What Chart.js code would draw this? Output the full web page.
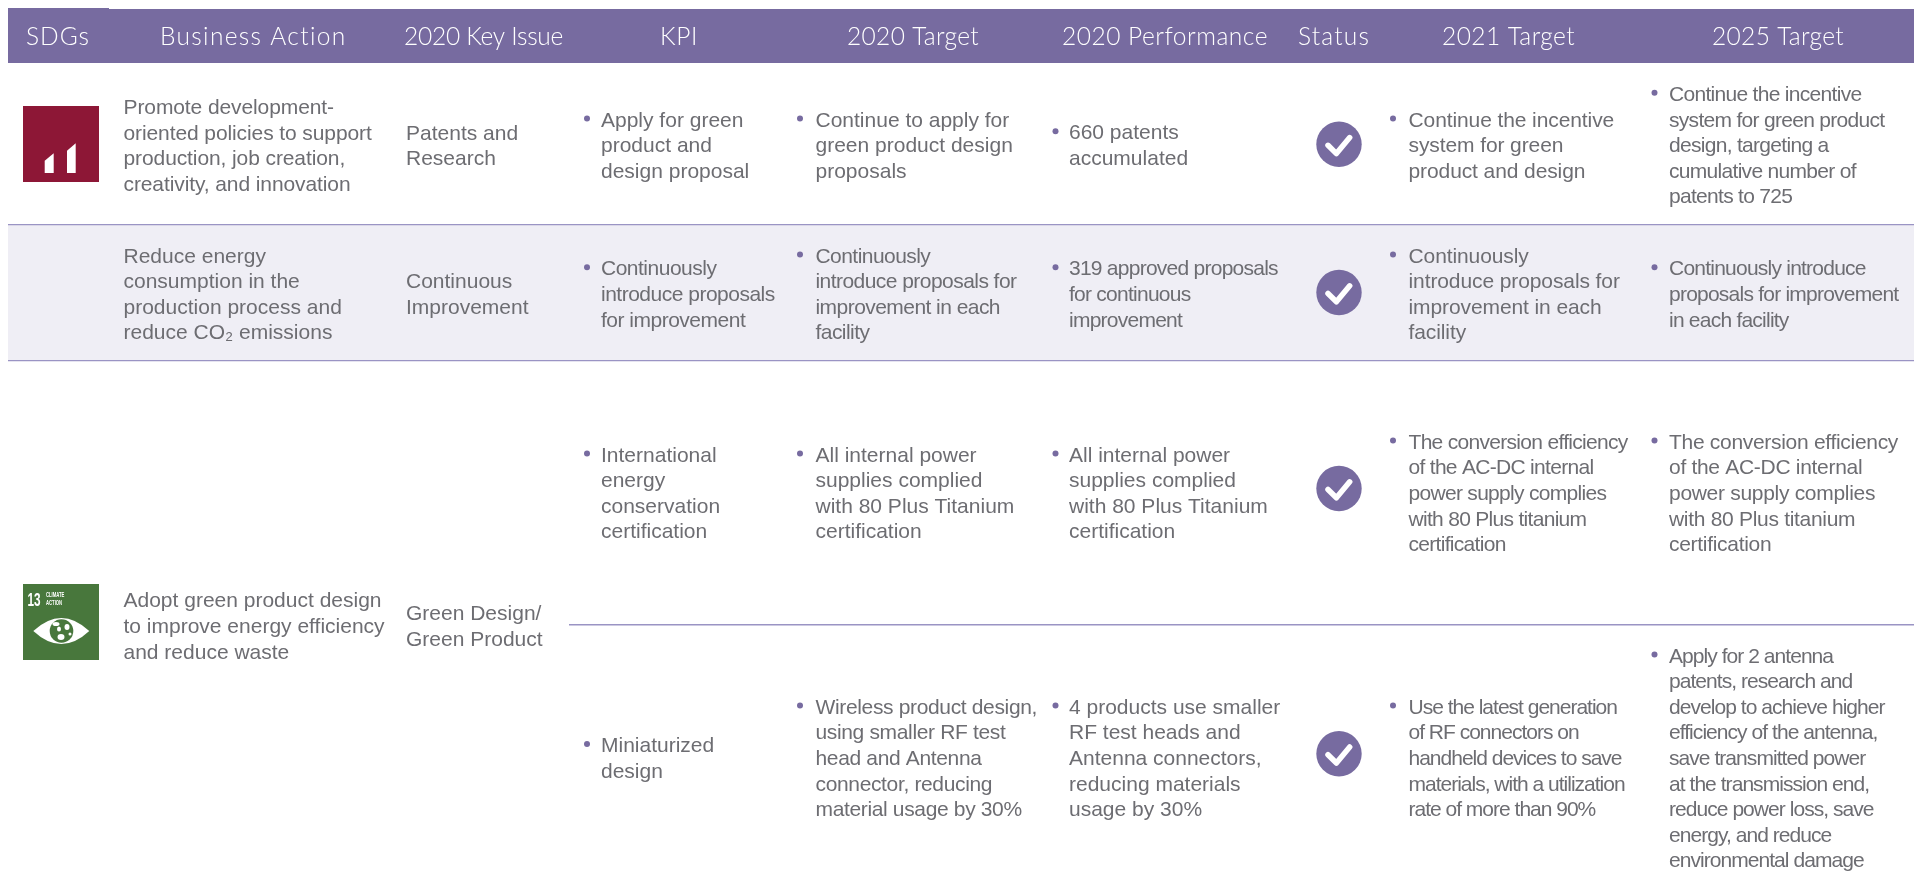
<!DOCTYPE html>
<html>
<head>
<meta charset="utf-8">
<title>SDGs table</title>
<script src="https://cdn.jsdelivr.net/npm/chart.js@4/dist/chart.umd.min.js"></script>
<style>
  html, body { margin: 0; padding: 0; background: #fff; overflow: hidden; }
  canvas { display: block; }
</style>
</head>
<body>
<canvas id="chart" width="1914" height="883"></canvas>
<script>
// table content
const headers = ['SDGs', 'Business Action', '2020 Key Issue', 'KPI', '2020 Target', '2020 Performance', 'Status', '2021 Target', '2025 Target'];
const businessActions = [
  ['Promote development-', 'oriented policies to support', 'production, job creation,', 'creativity, and innovation'],
  ['Reduce energy', 'consumption in the', 'production process and', 'reduce CO\u2082 emissions'],
  ['Adopt green product design', 'to improve energy efficiency', 'and reduce waste']
];
const keyIssues = [
  ['Patents and', 'Research'],
  ['Continuous', 'Improvement'],
  ['Green Design/', 'Green Product']
];
const kpis = [
  ['Apply for green', 'product and', 'design proposal'],
  ['Continuously', 'introduce proposals', 'for improvement'],
  ['International', 'energy', 'conservation', 'certification'],
  ['Miniaturized', 'design']
];
const targets2020 = [
  ['Continue to apply for', 'green product design', 'proposals'],
  ['Continuously', 'introduce proposals for', 'improvement in each', 'facility'],
  ['All internal power', 'supplies complied', 'with 80 Plus Titanium', 'certification'],
  ['Wireless product design,', 'using smaller RF test', 'head and Antenna', 'connector, reducing', 'material usage by 30%']
];
const performance2020 = [
  ['660 patents', 'accumulated'],
  ['319 approved proposals', 'for continuous', 'improvement'],
  ['All internal power', 'supplies complied', 'with 80 Plus Titanium', 'certification'],
  ['4 products use smaller', 'RF test heads and', 'Antenna connectors,', 'reducing materials', 'usage by 30%']
];
const statusDone = [1, 1, 1, 1];
const targets2021 = [
  ['Continue the incentive', 'system for green', 'product and design'],
  ['Continuously', 'introduce proposals for', 'improvement in each', 'facility'],
  ['The conversion efficiency', 'of the AC-DC internal', 'power supply complies', 'with 80 Plus titanium', 'certification'],
  ['Use the latest generation', 'of RF connectors on', 'handheld devices to save', 'materials, with a utilization', 'rate of more than 90%']
];
const targets2025 = [
  ['Continue the incentive', 'system for green product', 'design, targeting a', 'cumulative number of', 'patents to 725'],
  ['Continuously introduce', 'proposals for improvement', 'in each facility'],
  ['The conversion efficiency', 'of the AC-DC internal', 'power supply complies', 'with 80 Plus titanium', 'certification'],
  ['Apply for 2 antenna', 'patents, research and', 'develop to achieve higher', 'efficiency of the antenna,', 'save transmitted power', 'at the transmission end,', 'reduce power loss, save', 'energy, and reduce', 'environmental damage']
];

// layout, in the px units of the hidden axes
const W = 1914, H = 883;
const headerLeft = [26, 160, 404, 660, 847, 1062, 1298, 1442, 1712];
const headerWidth = [64, 187, 159, 38, 132, 206, 72, 133, 132];
const rowMid = [152.2, 301, 500, 765];   // middle baseline of each row
const groupMid = [152.5, 301, 633];      // action + key issue columns
const statusY = [144.3, 292.5, 488.5, 753.7];
const lineH = 25.6;
const actionX = 123.5, issueX = 406;
const bulletCols = [
  { cells: kpis, bullet: 587, text: 601, track: [0, -0.5, 0, 0] },
  { cells: targets2020, bullet: 800, text: 815.5, track: [0, -0.55, 0, -0.35] },
  { cells: performance2020, bullet: 1055.5, text: 1069, track: [0, -0.75, 0, 0] },
  { cells: targets2021, bullet: 1393, text: 1408.5, track: [-0.1, -0.1, -0.7, -1] },
  { cells: targets2025, bullet: 1654.5, text: 1669, track: [-0.7, -0.77, -0.3, -0.95] }
];
const actionTrack = [-0.1, 0, 0];
const statusX = 1339;

const PURPLE = '#776ba0', RULE = '#9a94c4', BAND = '#efeef5', TEXT = '#6d6d72';

function box(x0, x1, y0, y1, color) {
  return {
    type: 'scatter', showLine: true, fill: 'shape', backgroundColor: color, borderWidth: 0,
    pointRadius: 0, order: 5, tension: 0,
    data: [{ x: x0, y: y0 }, { x: x1, y: y0 }, { x: x1, y: y1 }, { x: x0, y: y1 }, { x: x0, y: y0 }]
  };
}
function poly(points, color) {
  return {
    type: 'scatter', showLine: true, fill: 'shape', backgroundColor: color, borderWidth: 0,
    pointRadius: 0, order: 3, data: points.map(p => ({ x: p[0], y: p[1] }))
  };
}
function rule(x0, x1, y) {
  return {
    type: 'scatter', showLine: true, borderColor: RULE, borderWidth: 1.4, pointRadius: 0, order: 4,
    data: [{ x: x0, y: y }, { x: x1, y: y }]
  };
}

const bulletPoints = [];
bulletCols.forEach(col => col.cells.forEach((cell, r) => {
  bulletPoints.push({ x: col.bullet, y: rowMid[r] - (cell.length - 1) * lineH / 2 - 8.2 });
}));

const datasets = [
  box(8, 109, 8, 63, PURPLE),
  box(8, W, 9, 63, PURPLE),
  box(8, W, 225, 360, BAND),
  rule(8, W, 224.6),
  rule(8, W, 360.6),
  rule(569, W, 624.7),
  poly([[23, 106], [99, 106], [99, 182], [23, 182]], '#8d1736'),
  poly([[23, 584], [99, 584], [99, 660], [23, 660]], '#48773c'),
  { type: 'scatter', data: bulletPoints, pointRadius: 3, pointBackgroundColor: PURPLE, pointBorderWidth: 0, order: 1 },
  {
    type: 'scatter', order: 1, pointRadius: 22.7, pointBackgroundColor: PURPLE, pointBorderWidth: 0,
    data: statusDone.map((s, r) => ({ x: statusX, y: statusY[r] }))
  }
];

// text and the small icon details
const tablePlugin = {
  id: 'table',
  afterDatasetsDraw(chart) {
    const ctx = chart.ctx;
    const px = v => chart.scales.x.getPixelForValue(v);
    const py = v => chart.scales.y.getPixelForValue(v);
    ctx.save();
    ctx.textBaseline = 'alphabetic';
    ctx.textAlign = 'left';

    // header, spaced out to its measured width
    ctx.fillStyle = '#fff';
    ctx.font = '300 24.5px Lato';
    headers.forEach((h, i) => {
      ctx.letterSpacing = '0px';
      const w = ctx.measureText(h).width;
      ctx.letterSpacing = ((headerWidth[i] - w) / h.length).toFixed(2) + 'px';
      ctx.fillText(h, px(headerLeft[i]), py(45));
    });

    ctx.fillStyle = TEXT;
    ctx.font = '21px "Liberation Sans"';
    ctx.letterSpacing = '0px';
    const block = (lines, x, mid, track) => {
      ctx.letterSpacing = (track || 0) + 'px';
      const top = mid - (lines.length - 1) * lineH / 2;
      lines.forEach((l, k) => ctx.fillText(l, px(x), py(top + k * lineH)));
    };
    businessActions.forEach((c, r) => block(c, actionX, groupMid[r], actionTrack[r]));
    keyIssues.forEach((c, r) => block(c, issueX, groupMid[r], 0));
    bulletCols.forEach(col => col.cells.forEach((c, r) => block(c, col.text, rowMid[r], col.track[r])));
    ctx.letterSpacing = '0px';

    // status ticks
    ctx.strokeStyle = '#fff';
    ctx.lineWidth = 5.5;
    ctx.lineCap = 'round';
    ctx.lineJoin = 'round';
    statusDone.forEach((s, r) => {
      const cy = statusY[r];
      ctx.beginPath();
      ctx.moveTo(px(statusX - 11), py(cy + 1));
      ctx.lineTo(px(statusX - 2.6), py(cy + 9.3));
      ctx.lineTo(px(statusX + 10.7), py(cy - 6.7));
      ctx.stroke();
    });

    // red icon bars
    ctx.fillStyle = '#fff';
    [[44.7, 53.7, 160.7, 153.3], [67, 75.7, 150.7, 143.3]].forEach(b => {
      ctx.beginPath();
      ctx.moveTo(px(b[0]), py(173));
      ctx.lineTo(px(b[0]), py(b[2]));
      ctx.lineTo(px(b[1]), py(b[3]));
      ctx.lineTo(px(b[1]), py(173));
      ctx.closePath();
      ctx.fill();
    });

    // climate action icon
    ctx.save();
    ctx.translate(px(27.5), py(605.5));
    ctx.scale(0.62, 1);
    ctx.font = 'bold 19px "Liberation Sans"';
    ctx.fillText('13', 0, 0);
    ctx.restore();
    ctx.save();
    ctx.translate(px(46), py(597));
    ctx.scale(0.62, 1);
    ctx.font = 'bold 6.8px "Liberation Sans"';
    ctx.fillText('CLIMATE', 0, 0);
    ctx.fillText('ACTION', 0, 8.3);
    ctx.restore();
    const ex0 = 33.3, ex1 = 89.3, ey = 631, eh = 13;
    ctx.beginPath();
    ctx.moveTo(px(ex0), py(ey));
    ctx.quadraticCurveTo(px(61.3), py(ey - eh * 2), px(ex1), py(ey));
    ctx.quadraticCurveTo(px(61.3), py(ey + eh * 2), px(ex0), py(ey));
    ctx.fill();
    ctx.fillStyle = '#48773c';
    ctx.beginPath();
    ctx.arc(px(61.5), py(631), 11.8, 0, Math.PI * 2);
    ctx.fill();
    ctx.fillStyle = '#fff';
    [[56, 624, 3.5, 2], [59, 629, 2, 2.5], [61, 637, 3.5, 3], [67, 627, 2.5, 3], [70, 634, 1.5, 1.5]].forEach(e => {
      ctx.beginPath();
      ctx.ellipse(px(e[0]), py(e[1]), e[2], e[3], 0, 0, Math.PI * 2);
      ctx.fill();
    });
    ctx.restore();
  }
};

new Chart(document.getElementById('chart'), {
  data: { datasets },
  options: {
    responsive: false,
    animation: false,
    layout: { padding: 0, autoPadding: false },
    plugins: { legend: { display: false }, tooltip: { enabled: false } },
    scales: {
      x: { type: 'linear', min: 0, max: W, display: false },
      y: { type: 'linear', min: 0, max: H, reverse: true, display: false }
    }
  },
  plugins: [tablePlugin]
});
</script>
</body>
</html>
